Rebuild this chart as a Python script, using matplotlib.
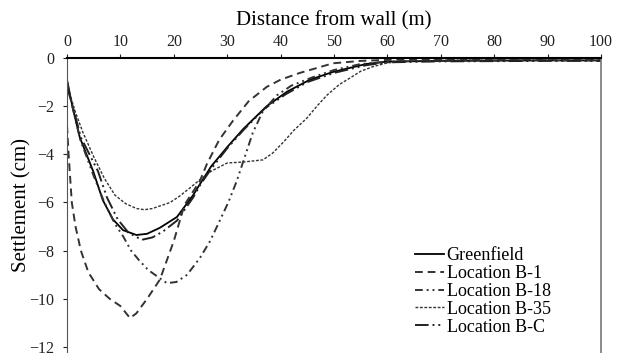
import matplotlib
matplotlib.use('Agg')
import matplotlib.pyplot as plt

# ── data ──────────────────────────────────────────────────────────────────────
green_x = [0, 1, 2.4, 4.9, 6.7, 8.6, 10.5, 13, 15, 17.4, 20.6, 23.6, 25, 27, 30, 33,
           37.4, 41.2, 45.5, 49.8, 56, 60, 70, 80, 90, 100]
green_y = [-0.9, -2.0, -3.3, -4.7, -5.9, -6.7, -7.15, -7.35, -7.3, -7.05, -6.6, -5.7,
           -5.2, -4.5, -3.7, -2.95, -2.0, -1.4, -0.9, -0.58, -0.25, -0.15, -0.12, -0.11,
           -0.1, -0.1]

b1_x = [0, 0.3, 0.9, 1.6, 2.6, 4, 6, 8, 10, 11.8, 13, 15, 17.4, 20, 22, 24.9, 26.2,
        28.5, 31.1, 34, 37.4, 40, 43.6, 49.8, 55, 60, 70, 80, 90, 100]
b1_y = [-2.8, -4.0, -6.0, -7.0, -8.0, -8.9, -9.6, -10.0, -10.3, -10.8, -10.6, -10.0,
        -9.2, -7.6, -6.1, -5.1, -4.4, -3.4, -2.6, -1.8, -1.2, -0.9, -0.62, -0.22, -0.12,
        -0.08, -0.06, -0.05, -0.05, -0.05]

b18_x = [0, 1.2, 2.5, 5, 7, 9, 10.5, 12, 13.5, 15.2, 17.4, 18.7, 20.5, 22.5, 24.9,
         26.8, 28.3, 30.2, 31.8, 33, 34.8, 36.7, 39.3, 42, 46, 50, 55, 60, 70, 80, 90, 100]
b18_y = [-1.0, -2.2, -3.4, -4.9, -6.0, -6.9, -7.4, -8.0, -8.4, -8.8, -9.15, -9.35,
         -9.3, -9.0, -8.3, -7.6, -6.9, -6.0, -5.1, -4.3, -3.1, -2.2, -1.55, -1.15, -0.8,
         -0.5, -0.25, -0.15, -0.1, -0.1, -0.1, -0.1]

b35_x = [0, 1.5, 3, 5, 7, 9, 11, 13, 14.5, 16, 18, 19.3, 21, 23, 24.9, 27, 30, 33,
         36.7, 38.5, 40.5, 42.5, 44.9, 46.8, 48.7, 51, 53, 55, 57.3, 60, 65, 70, 80, 90, 100]
b35_y = [-1.1, -2.2, -3.1, -4.1, -5.0, -5.7, -6.05, -6.25, -6.3, -6.25, -6.1, -6.0,
         -5.75, -5.4, -5.05, -4.7, -4.36, -4.32, -4.23, -3.95, -3.5, -3.0, -2.5, -2.0,
         -1.54, -1.1, -0.83, -0.55, -0.36, -0.2, -0.12, -0.1, -0.1, -0.1, -0.1]

bc_x = [0, 1.2, 2.6, 5.8, 7.5, 9.5, 11.5, 14, 16, 18, 20.6, 23.6, 25, 27, 30, 33, 37,
        41, 45, 50, 56, 60, 70, 80, 90, 100]
bc_y = [-1.2, -2.1, -3.3, -4.7, -5.8, -6.7, -7.25, -7.55, -7.45, -7.2, -6.75, -5.8,
        -5.25, -4.6, -3.75, -3.0, -2.1, -1.5, -1.0, -0.62, -0.3, -0.18, -0.14, -0.13,
        -0.12, -0.12]

x_ticks = [0, 10, 20, 30, 40, 50, 60, 70, 80, 90, 100]
y_ticks = [0, -2, -4, -6, -8, -10, -12]

# ── figure ────────────────────────────────────────────────────────────────────
plt.rcParams['font.family'] = ['Liberation Serif', 'DejaVu Serif']

fig = plt.figure(figsize=(6.24, 3.53), dpi=100)
ax = fig.add_axes([67 / 624, 0.0, (601 - 67) / 624, 1 - 58 / 353])

ax.plot(green_x, green_y, color='black', lw=1.3, label='Greenfield')
ax.plot(b1_x, b1_y, color='#333333', lw=1.4, ls=(0, (4, 2.5)), label='Location B-1')
ax.plot(b18_x, b18_y, color='#333333', lw=1.4, ls=(0, (4, 2, 1, 2, 1, 2)),
        label='Location B-18')
ax.plot(b35_x, b35_y, color='#333333', lw=1.0, ls=(0, (2, 1.2)), label='Location B-35')
ax.plot(bc_x, bc_y, color='#222222', lw=1.4, ls=(0, (7, 2, 1, 2, 1, 2)),
        label='Location B-C')

ax.set_xlim(0, 100)
ax.set_ylim(-12.25, 0)
ax.set_xticks(x_ticks)
ax.set_yticks(y_ticks)
ax.xaxis.tick_top()
ax.xaxis.set_label_position('top')
ax.tick_params(axis='both', direction='out', length=3, width=0.8, labelsize=11.5,
               colors='#222222', pad=3)
ax.tick_params(axis='y', pad=6)
ax.set_xlabel('Distance from wall (m)', fontsize=15, labelpad=6)
ax.set_ylabel('Settlement (cm)', fontsize=15)
ax.yaxis.set_label_coords(-0.066, 0.5)

ax.spines['bottom'].set_visible(False)
ax.spines['top'].set_linewidth(1.5)
ax.spines['left'].set_color('#555555')
ax.spines['right'].set_color('#777777')
ax.spines['right'].set_linewidth(1.2)

ax.legend(loc='upper left', bbox_to_anchor=(406 / 624, 1 - 238 / 353),
          bbox_transform=fig.transFigure, frameon=False, fontsize=13,
          handlelength=1.6, handletextpad=0.15, labelspacing=0.05, borderpad=0)

fig.savefig('out.png', dpi=100)
